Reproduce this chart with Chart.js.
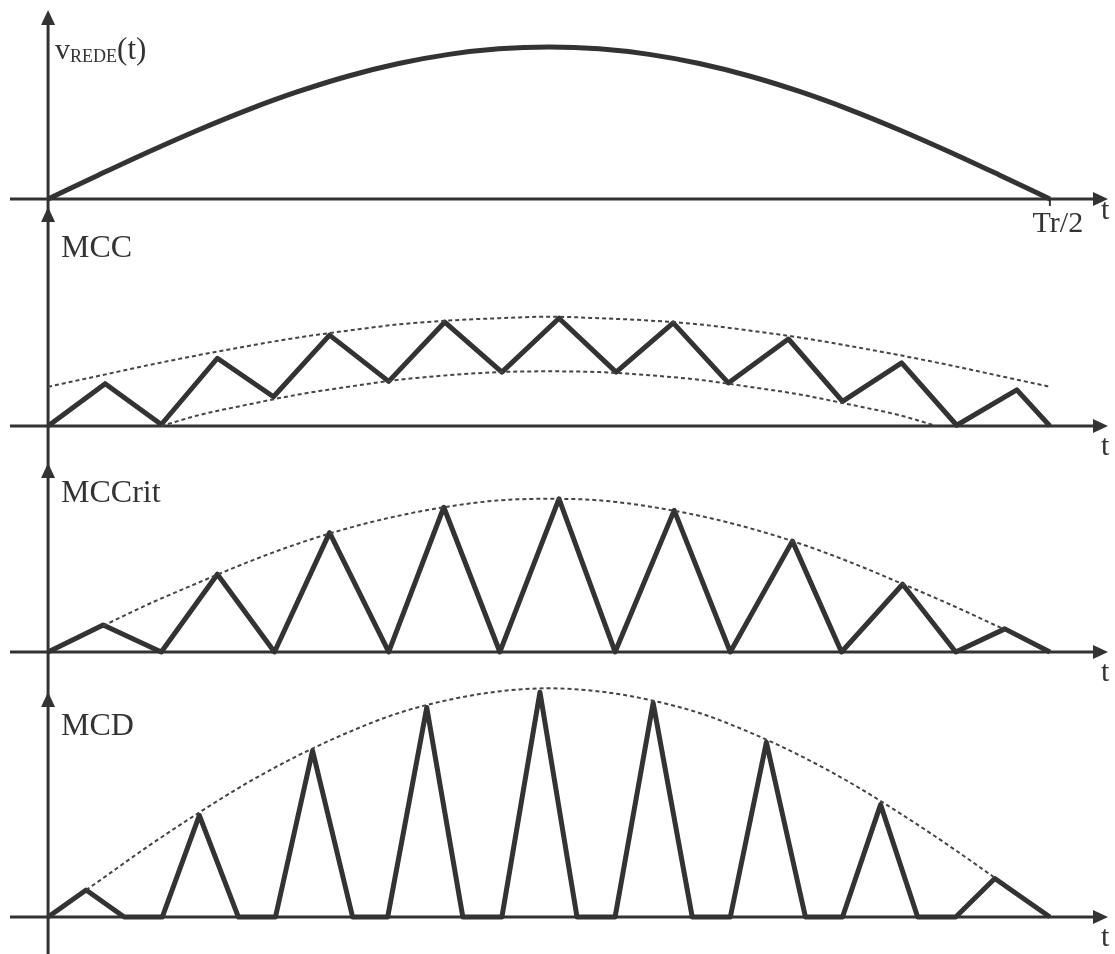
<!DOCTYPE html>
<html>
<head>
<meta charset="utf-8">
<script src="https://cdn.jsdelivr.net/npm/chart.js@4.4.0/dist/chart.umd.min.js"></script>
<style>
  html, body { margin: 0; padding: 0; background: #fff; }
  canvas { display: block; }
</style>
</head>
<body>
<canvas id="waves" width="1115" height="954"></canvas>
<script>
// t is given as a fraction of half the mains period (0 .. Tr/2)
const halfCycleT = [0, 0.05, 0.10, 0.15, 0.20, 0.25, 0.30, 0.35, 0.40, 0.45, 0.50,
                    0.55, 0.60, 0.65, 0.70, 0.75, 0.80, 0.85, 0.90, 0.95, 1.00];

// mains voltage (normalised to its peak)
const vRede = [0, 0.156, 0.309, 0.454, 0.588, 0.707, 0.809, 0.891, 0.951, 0.988, 1.0,
               0.988, 0.951, 0.891, 0.809, 0.707, 0.588, 0.454, 0.309, 0.156, 0];

// continuous conduction mode
const mccT = [0, 0.057, 0.113, 0.169, 0.225, 0.281, 0.340, 0.396, 0.453, 0.510,
              0.567, 0.624, 0.679, 0.739, 0.793, 0.852, 0.907, 0.967, 1.0];
const mccI = [0, 0.55, 0.02, 0.88, 0.38, 1.18, 0.58, 1.35, 0.70, 1.40,
              0.70, 1.34, 0.56, 1.13, 0.32, 0.82, 0.01, 0.47, 0];
const mccUpper = [0.51, 0.65, 0.79, 0.92, 1.04, 1.15, 1.24, 1.32, 1.37, 1.40, 1.42,
                  1.40, 1.37, 1.32, 1.24, 1.15, 1.04, 0.92, 0.79, 0.65, 0.51];
const mccLowerT = [0.113, 0.15, 0.20, 0.25, 0.30, 0.35, 0.40, 0.45, 0.50,
                   0.55, 0.60, 0.65, 0.70, 0.75, 0.80, 0.85, 0.887];
const mccLower = [0, 0.14, 0.28, 0.41, 0.51, 0.60, 0.66, 0.70, 0.71,
                  0.70, 0.66, 0.60, 0.51, 0.41, 0.28, 0.14, 0];

// critical conduction mode
const critT = [0, 0.055, 0.113, 0.169, 0.226, 0.281, 0.340, 0.395, 0.451, 0.510,
               0.566, 0.625, 0.681, 0.743, 0.792, 0.853, 0.906, 0.955, 1.0];
const critI = [0, 0.35, 0, 1.01, 0, 1.55, 0, 1.88, 0, 1.99,
               0, 1.84, 0, 1.44, 0, 0.88, 0, 0.30, 0];
const critEnvT = [0.055, 0.10, 0.15, 0.20, 0.25, 0.30, 0.35, 0.40, 0.45, 0.50,
                  0.55, 0.60, 0.65, 0.70, 0.75, 0.80, 0.85, 0.90, 0.955];
const critEnv = [0.34, 0.62, 0.90, 1.17, 1.41, 1.61, 1.77, 1.89, 1.97, 1.99,
                 1.97, 1.89, 1.77, 1.61, 1.41, 1.17, 0.90, 0.62, 0.29];

// discontinuous conduction mode
const mcdT = [0, 0.038, 0.076, 0.114, 0.151, 0.190, 0.227, 0.264, 0.304, 0.339,
              0.378, 0.414, 0.453, 0.491, 0.528, 0.566, 0.604, 0.643, 0.681,
              0.717, 0.756, 0.793, 0.831, 0.868, 0.906, 0.945, 1.0];
const mcdI = [0, 0.35, 0, 0, 1.32, 0, 0, 2.16, 0, 0,
              2.72, 0, 0, 2.92, 0, 0, 2.78, 0, 0,
              2.27, 0, 0, 1.46, 0, 0, 0.50, 0];
const mcdEnvT = [0.038, 0.05, 0.10, 0.15, 0.20, 0.25, 0.30, 0.35, 0.40, 0.45, 0.50,
                 0.55, 0.60, 0.65, 0.70, 0.75, 0.80, 0.85, 0.90, 0.945];
const mcdEnv = [0.35, 0.46, 0.92, 1.35, 1.75, 2.10, 2.40, 2.65, 2.82, 2.93, 2.97,
                2.93, 2.82, 2.65, 2.40, 2.10, 1.75, 1.35, 0.92, 0.51];

const panelIds = ['yRede', 'yMcc', 'yCrit', 'yMcd'];
const panelLabels = ['', 'MCC', 'MCCrit', 'MCD'];

const ink = '#333333';
const serif = '"Liberation Serif", "DejaVu Serif", serif';

const pts = (ts, ys) => ts.map((t, i) => ({ x: t, y: ys[i] }));

const wave = (data, axis) => ({
  data, yAxisID: axis, borderColor: ink, borderWidth: 5,
  pointRadius: 0, tension: 0, borderJoinStyle: 'round', clip: false
});
const envelope = (data, axis) => ({
  data, yAxisID: axis, borderColor: '#444', borderWidth: 2, borderDash: [4, 3],
  pointRadius: 0, cubicInterpolationMode: 'monotone', clip: false
});

function arrowHead(ctx, tx, ty, dir) {
  const len = 15, half = 7;
  ctx.beginPath();
  if (dir === 'right') {
    ctx.moveTo(tx, ty);
    ctx.lineTo(tx - len, ty - half);
    ctx.lineTo(tx - len, ty + half);
  } else {
    ctx.moveTo(tx, ty);
    ctx.lineTo(tx - half, ty + len);
    ctx.lineTo(tx + half, ty + len);
  }
  ctx.closePath();
  ctx.fill();
}

// axes with arrow heads, panel names and the Tr/2 mark
const axesPlugin = {
  id: 'axesPlugin',
  beforeDatasetsDraw(chart, args, opts) {
    const ctx = chart.ctx;
    const xs = chart.scales.x;
    const area = chart.chartArea;
    const x0 = xs.getPixelForValue(0);
    ctx.save();
    ctx.strokeStyle = ink;
    ctx.fillStyle = ink;
    ctx.lineWidth = 3;

    ctx.beginPath();
    ctx.moveTo(x0, area.top + 10);
    ctx.lineTo(x0, chart.height);
    ctx.stroke();

    panelIds.forEach((id, i) => {
      const ys = chart.scales[id];
      const yb = ys.getPixelForValue(0);
      ctx.lineWidth = 3;
      ctx.beginPath();
      ctx.moveTo(area.left, yb);
      ctx.lineTo(area.right - 10, yb);
      ctx.stroke();
      arrowHead(ctx, area.right, yb, 'right');
      arrowHead(ctx, x0, ys.top, 'up');

      ctx.font = '30px ' + serif;
      ctx.textBaseline = 'alphabetic';
      ctx.fillText('t', area.right - 7, yb + opts.tDy[i]);

      ctx.font = '32px ' + serif;
      if (panelLabels[i]) {
        ctx.fillText(panelLabels[i], x0 + 13, ys.top + opts.labelDy[i]);
      }
    });

    // v_REDE(t)
    const top = chart.scales.yRede;
    let lx = x0 + 7;
    const by = top.top + opts.labelDy[0];
    ctx.font = '30px ' + serif;
    ctx.fillText('v', lx, by);
    lx += ctx.measureText('v').width;
    ctx.font = '18px ' + serif;
    ctx.fillText('REDE', lx, by + 3);
    lx += ctx.measureText('REDE').width;
    ctx.font = '31px ' + serif;
    ctx.fillText('(t)', lx, by);

    // Tr/2 mark
    const xe = xs.getPixelForValue(1);
    const yb0 = top.getPixelForValue(0);
    ctx.lineWidth = 2;
    ctx.beginPath();
    ctx.moveTo(xe, yb0);
    ctx.lineTo(xe, yb0 + 7);
    ctx.stroke();
    ctx.font = '30px ' + serif;
    ctx.textAlign = 'center';
    ctx.fillText('Tr/2', xe + 8, yb0 + 33);
    ctx.restore();
  }
};

new Chart(document.getElementById('waves').getContext('2d'), {
  type: 'line',
  data: {
    datasets: [
      envelope(pts(halfCycleT, mccUpper), 'yMcc'),
      envelope(pts(mccLowerT, mccLower), 'yMcc'),
      envelope(pts(critEnvT, critEnv), 'yCrit'),
      envelope(pts(mcdEnvT, mcdEnv), 'yMcd'),
      Object.assign(wave(pts(halfCycleT, vRede), 'yRede'), { cubicInterpolationMode: 'monotone' }),
      wave(pts(mccT, mccI), 'yMcc'),
      wave(pts(critT, critI), 'yCrit'),
      wave(pts(mcdT, mcdI), 'yMcd')
    ]
  },
  options: {
    responsive: false,
    animation: false,
    events: [],
    layout: { padding: { left: 10, right: 7, top: 10, bottom: 0 } },
    scales: {
      x: { type: 'linear', min: -0.038, max: 1.058, display: false },
      yRede: { axis: 'y', position: 'left', stack: 'panels', stackWeight: 197, weight: 4,
               min: -0.053, max: 1.243, display: false },
      yMcc: { axis: 'y', position: 'left', stack: 'panels', stackWeight: 256, weight: 3,
              min: -0.48, max: 2.844, display: false },
      yCrit: { axis: 'y', position: 'left', stack: 'panels', stackWeight: 229, weight: 2,
               min: -0.52, max: 2.455, display: false },
      yMcd: { axis: 'y', position: 'left', stack: 'panels', stackWeight: 262, weight: 1,
              min: -0.48, max: 2.922, display: false }
    },
    plugins: {
      legend: { display: false },
      tooltip: { enabled: false },
      axesPlugin: { tDy: [20, 29, 29, 29], labelDy: [49, 50, 39, 43] }
    }
  },
  plugins: [axesPlugin]
});
</script>
</body>
</html>
